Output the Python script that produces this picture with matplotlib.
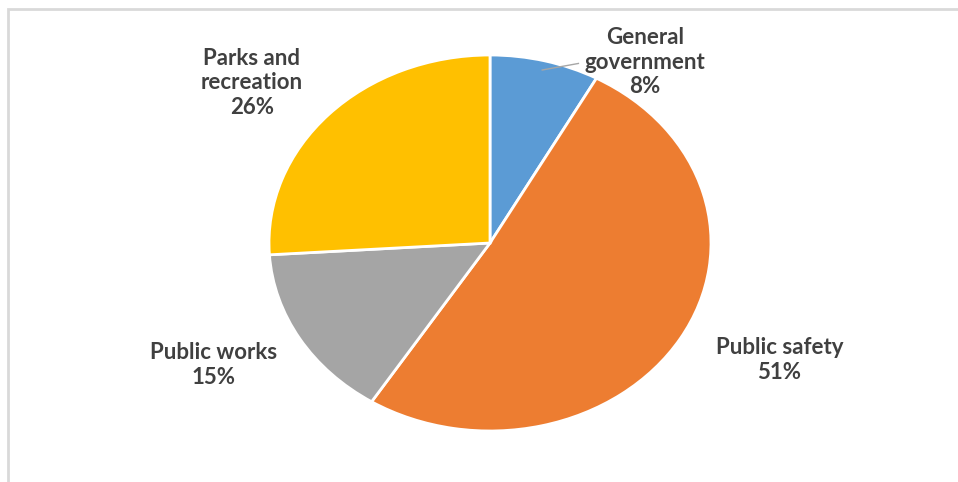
import numpy as np
import matplotlib
matplotlib.use("Agg")
import matplotlib.pyplot as plt
from matplotlib.patches import Rectangle

# data
categories = ["General\ngovernment", "Public safety", "Public works", "Parks and\nrecreation"]
shares = [8, 51, 15, 26]
colors = ["#5B9BD5", "#ED7D31", "#A5A5A5", "#FFC000"]

# label text spots (data units, pie radius = 1)
label_pos = [(0.70, 0.962), (1.31, -0.622), (-1.25, -0.649), (-1.077, 0.852)]

W, H = 958, 482
fig = plt.figure(figsize=(W / 100, H / 100), dpi=100)
ax = fig.add_axes([0, 0, 1, 1])

wedges, _ = ax.pie(shares, colors=colors, startangle=90, counterclock=False,
                   wedgeprops=dict(edgecolor="white", linewidth=2))

# ellipse as in the original: center at px (490, 243), radii 221 x 188
cx, cy, rx, ry = 490, 243, 221, 188
ax.set_aspect("auto")
ax.set_xlim(-cx / rx, (W - cx) / rx)
ax.set_ylim(-(H - cy) / ry, cy / ry)
ax.axis("off")

txt_color = "#404040"
for i, (name, val) in enumerate(zip(categories, shares)):
    x, y = label_pos[i]
    ax.text(x, y, f"{name}\n{val}%", ha="center", va="center",
            fontsize=16, fontweight="bold", color=txt_color,
            family=["Lato", "DejaVu Sans"], linespacing=1.2)

# leader line for the small slice
w = wedges[0]
mid = np.deg2rad((w.theta1 + w.theta2) / 2)
ax.plot([0.95 * np.cos(mid), 0.40], [0.95 * np.sin(mid), 0.955],
        color="#A6A6A6", lw=1)

# chart border
fig.patches.append(Rectangle((8 / W, -0.1), 1.2, 1 - 9 / H + 0.1,
                             transform=fig.transFigure, fill=False,
                             edgecolor="#D9D9D9", lw=2))

fig.savefig("out.png", dpi=100)
